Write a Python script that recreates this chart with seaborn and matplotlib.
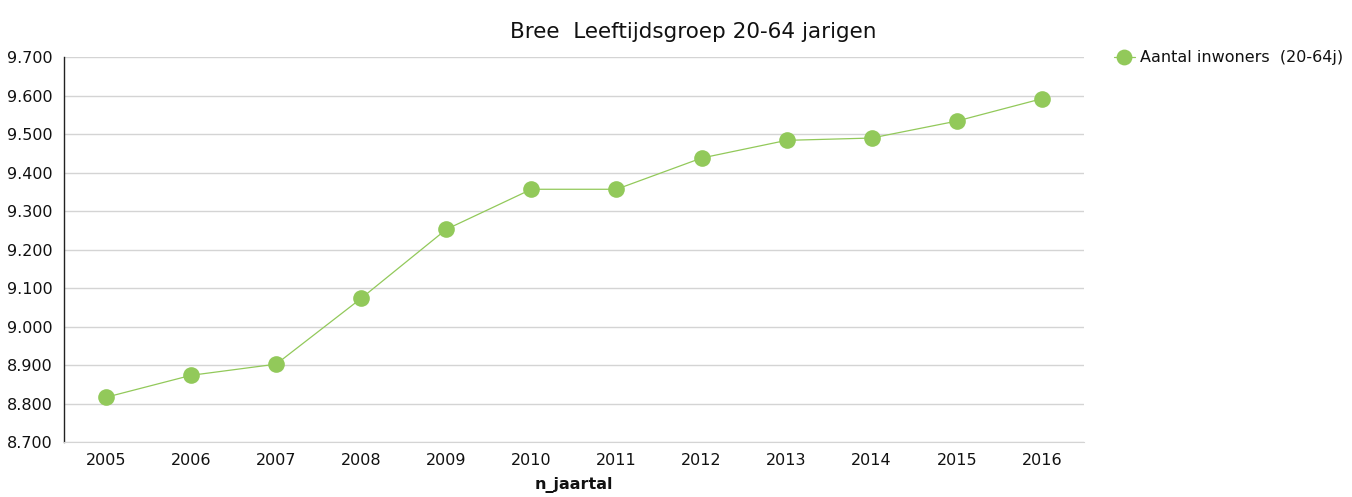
import matplotlib
matplotlib.use("Agg")
import matplotlib.pyplot as plt
import seaborn as sns
import pandas as pd
from matplotlib.ticker import FuncFormatter

# data
jaren = ["2005", "2006", "2007", "2008", "2009", "2010",
         "2011", "2012", "2013", "2014", "2015", "2016"]
inwoners = [8817, 8874, 8903, 9074, 9253, 9357,
            9357, 9438, 9484, 9490, 9534, 9592]
reeks = "Aantal inwoners  (20-64j)"

df = pd.DataFrame({"n_jaartal": jaren, "inwoners": inwoners})

sns.set_style("white")
plt.rcParams["font.family"] = ["DejaVu Sans"]
plt.rcParams["text.color"] = "#111111"

groen = "#92c95a"
fig, ax = plt.subplots(figsize=(13.52, 4.97), dpi=100)
fig.subplots_adjust(left=0.047, right=0.802, top=0.885, bottom=0.11)

sns.lineplot(data=df, x="n_jaartal", y="inwoners", ax=ax, color=groen,
             linewidth=0.9, marker="o", markersize=12, markeredgewidth=0,
             label=reeks, sort=False)

ax.set_xlim(-0.5, len(jaren) - 0.5)
ax.set_ylim(8700, 9700)
ax.set_yticks(range(8700, 9701, 100))
ax.yaxis.set_major_formatter(FuncFormatter(lambda v, p: f"{v/1000:.3f}"))
ax.grid(axis="y", color="#d4d4d4", linewidth=1)
ax.set_axisbelow(True)

for s in ["top", "right"]:
    ax.spines[s].set_visible(False)
ax.spines["left"].set_color("#222222")
ax.spines["left"].set_linewidth(1)
ax.spines["bottom"].set_color("#d4d4d4")
ax.tick_params(axis="both", length=0, labelsize=11.5, pad=8, colors="#111111")

ax.set_xlabel("n_jaartal", fontsize=11.5, fontweight="bold", labelpad=6, color="#111111")
ax.set_ylabel("")
ax.set_title("Bree  Leeftijdsgroep 20-64 jarigen", fontsize=15.5, pad=14, x=0.617,
             color="#111111")

ax.legend(loc="upper left", bbox_to_anchor=(1.015, 1.055), frameon=False,
          fontsize=11.5, handlelength=1.3, handletextpad=0.3, markerscale=0.95)

fig.savefig("out.png", dpi=100)
